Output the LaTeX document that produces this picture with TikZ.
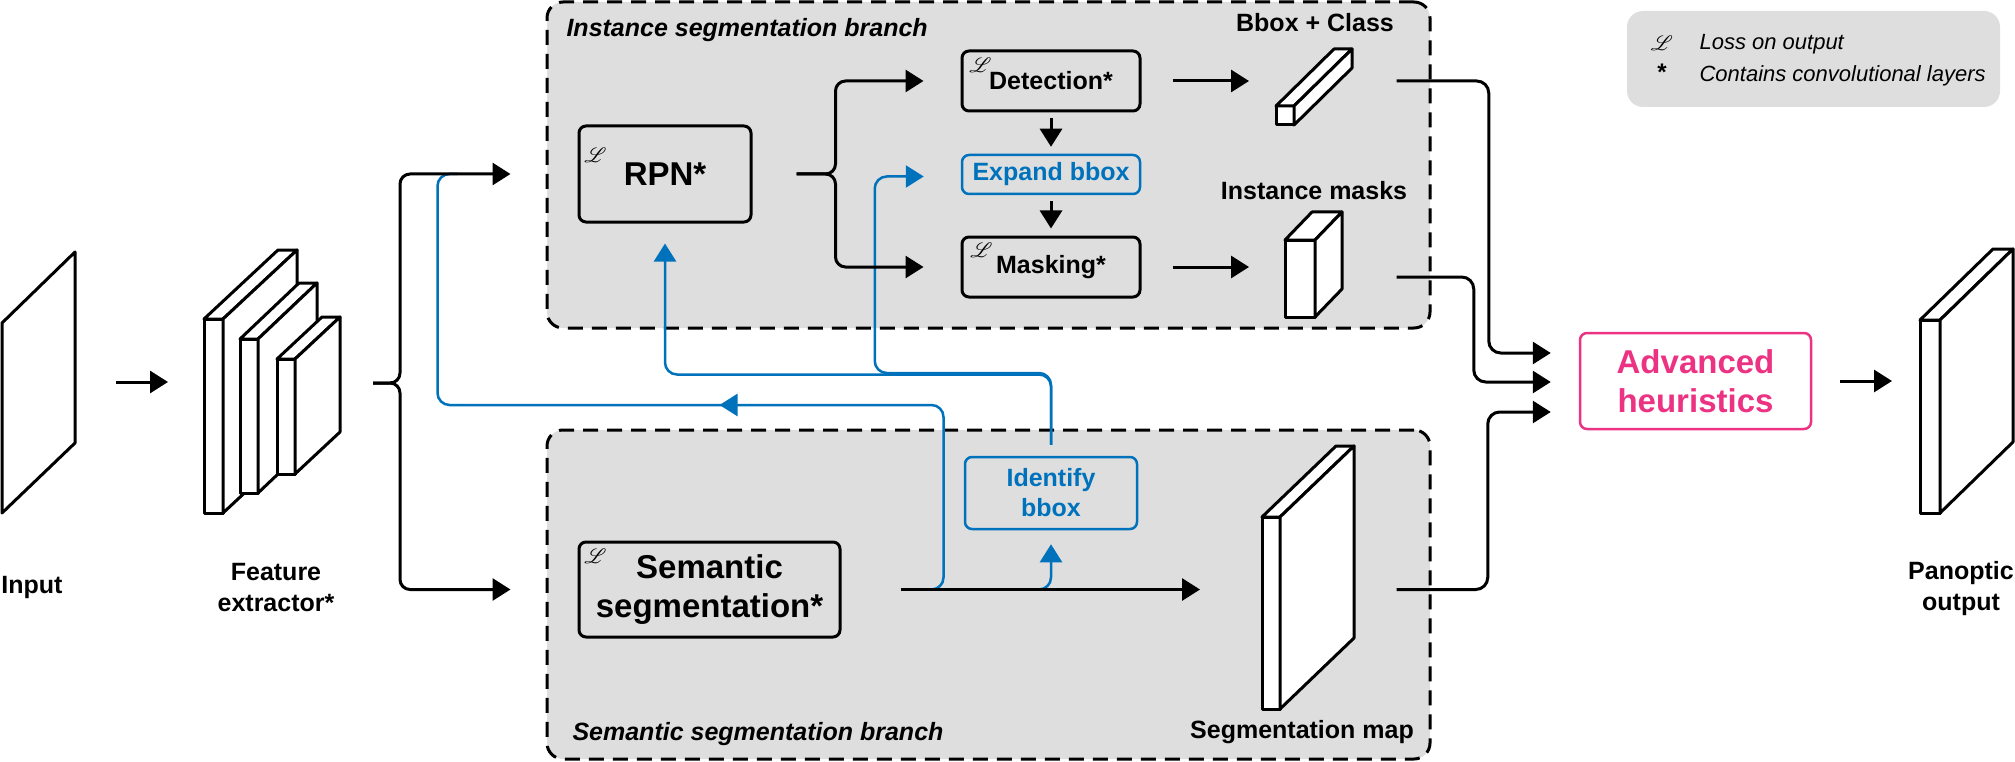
\documentclass[tikz,border=0pt]{standalone}
\usepackage{fontspec}
\setmainfont{Liberation Sans}
\usepackage{mathrsfs}
\usetikzlibrary{arrows.meta,calc,positioning}
\definecolor{fbblue}{RGB}{0,114,188}
\definecolor{heurpink}{RGB}{236,50,130}
\definecolor{panel}{RGB}{222,222,222}
\tikzset{
  >={Triangle[length=18pt,width=22pt]},
  flow/.style={->,line width=3pt},
  fback/.style={->,fbblue,line width=2.5pt,rounded corners=12pt},
  block/.style={draw,line width=3pt,rounded corners=7pt,inner sep=0pt,
    font=\bfseries\fontsize{25}{30}\selectfont},
  bigblock/.style={block,align=center,font=\bfseries\fontsize{33}{39}\selectfont},
  branch/.style={draw,fill=panel,dash pattern=on 15pt off 9pt,line width=3pt,
    rounded corners=16pt,inner sep=0pt},
  caption/.style={font=\bfseries\fontsize{25}{31}\selectfont,align=center},
  brname/.style={font=\bfseries\itshape\fontsize{25}{29}\selectfont,anchor=base west},
  lossmark/.style={font=\fontsize{20}{24}\selectfont,inner sep=0pt},
  slab/.style={fill=white,line width=3pt,line join=round},
}
% front face at (x,y), size w x h, depth (dx,dy)
\newcommand{\drawslab}[7]{%
  \filldraw[slab] (#2,#3) rectangle ++(#4,#5);
  \filldraw[slab] (#2,#3) -- ++(#6,#7) -- ++(#4,0) -- (#2+#4,#3) -- cycle;
  \filldraw[slab] (#2+#4,#3) -- ++(#6,#7) -- ++(0,#5) -- (#2+#4,#3+#5) -- cycle;
  \coordinate (#1-w) at (#2,#3+#5/2);
}

\begin{document}
\begin{tikzpicture}[x=1pt,y=-1pt]
  \useasboundingbox (0,0) rectangle (2015,762);

  % Branch panels and legend
  \node[branch,minimum width=883pt,minimum height=326pt] (instbr) at (988.5,165) {};
  \node[branch,minimum width=883pt,minimum height=329pt] (sembr) at (988.5,594.5) {};
  \node[brname] (instname) at (563,37) {Instance segmentation branch};
  \node[brname] (semname) at (569,740) {Semantic segmentation branch};

  \node[fill=panel,rounded corners=16pt,minimum width=373pt,minimum height=96pt]
    (legend) at (1813.5,59) {};
  \node[lossmark,font=\fontsize{22}{26}\selectfont] (legloss) at (1662,43) {$\mathscr{L}$};
  \node[anchor=base west,font=\itshape\fontsize{22}{26}\selectfont] (leglosstxt)
    at (1696,50) {Loss on output};
  \node[font=\bfseries\fontsize{24}{28}\selectfont,inner sep=0pt] (legstar) at (1662,72) {*};
  \node[anchor=base west,font=\itshape\fontsize{22}{26}\selectfont] (legstartxt)
    at (1696,82) {Contains convolutional layers};

  % Input and feature extractor
  \filldraw[slab] (2,323) -- (75,252) -- (75,443) -- (2,513) -- cycle;
  \coordinate (input-e) at (75,382);
  \drawslab{fe1}{204}{319}{19}{194}{74}{-69}
  \drawslab{fe2}{240}{339}{18}{154}{59}{-56}
  \drawslab{fe3}{277}{359}{18}{115}{45}{-42}
  \coordinate (fsplit) at (373,383);
  \node[caption,anchor=base] (inputlbl) at (32,593) {Input};
  \node[caption] (featlbl) at (276,588) {Feature\\extractor*};

  % Blocks
  \node[bigblock,minimum width=172pt,minimum height=96pt] (rpn) at (665,174) {RPN*};
  \node[block,minimum width=178pt,minimum height=60pt] (detect) at (1051,81) {Detection*};
  \node[block,fbblue,line width=2.5pt,minimum width=178pt,minimum height=39pt]
    (expand) at (1051,174.5) {Expand bbox};
  \node[block,minimum width=178pt,minimum height=60pt] (masking) at (1051,267) {Masking*};
  \node[bigblock,minimum width=261pt,minimum height=95pt] (semseg) at (709.5,589.5)
    {Semantic\\segmentation*};
  \node[block,fbblue,line width=2.5pt,align=center,minimum width=172pt,minimum height=72pt]
    (identify) at (1051,493) {Identify\\bbox};
  \node[bigblock,heurpink,line width=2.5pt,minimum width=231pt,minimum height=96pt]
    (heur) at (1695.5,381) {Advanced\\heuristics};

  \node[lossmark] (rpnloss) at ($(rpn.north west)+(18,31)$) {$\mathscr{L}$};
  \node[lossmark] (detloss) at ($(detect.north west)+(20,16)$) {$\mathscr{L}$};
  \node[lossmark] (maskloss) at ($(masking.north west)+(21,15)$) {$\mathscr{L}$};
  \node[lossmark] (semloss) at ($(semseg.north west)+(18,16)$) {$\mathscr{L}$};

  % Outputs
  \drawslab{bbox}{1276}{106}{18}{19}{58}{-57}
  \drawslab{imask}{1285}{240}{30}{77}{27}{-28}
  \drawslab{smap}{1262}{517}{18}{192}{74}{-71}
  \drawslab{pano}{1920}{320}{20}{193}{73}{-71}
  \node[caption,anchor=base] (bboxlbl) at (1315,32) {Bbox + Class};
  \node[caption,anchor=base] (imasklbl) at (1314,200) {Instance masks};
  \node[caption,anchor=base] (smaplbl) at (1302,738) {Segmentation map};
  \node[caption] (panolbl) at (1961,589) {Panoptic\\output};

  % Feedback connectors
  \draw[fback,-] ($(semseg.east)+(85,0)$) -| ($(semseg.east)+(102,-184.5)$)
    -| ($(rpn.west)+(-140,0)$) -- ($(rpn.west)+(-120,0)$);
  \draw[fback] ($(semseg.east)+(-92,-184.5)$) -- ($(semseg.east)+(-122,-184.5)$);
  \draw[fback,shorten <=11pt] (identify.north) |- ($(rpn.south)+(0,151)$)
    -- ($(rpn.south)+(0,20)$);
  \draw[fback,shorten <=11pt] (identify.north) |- ($(expand.west)+(-86,198.5)$)
    |- ($(expand.west)+(-37,2)$);
  \draw[fback] ($(semseg.east)+(190,0)$) -| ($(identify.south)+(0,14)$);

  % Main flow
  \draw[flow,shorten <=41pt,shorten >=36pt] (input-e) -- (input-e -| fe1-w);
  \draw[flow,rounded corners=10pt] (fsplit) -- ++(27,0) |- ($(rpn.west)+(-67,0)$);
  \draw[flow,rounded corners=10pt] (fsplit) -- ++(27,0) |- ($(semseg.west)+(-67,0)$);
  \draw[flow,rounded corners=10pt] ($(rpn.east)+(44,0)$) -- ++(39,0)
    |- ($(detect.west)+(-37,0)$);
  \draw[flow,rounded corners=10pt] ($(rpn.east)+(44,0)$) -- ++(39,0)
    |- ($(masking.west)+(-37,0)$);
  \draw[flow,shorten <=6pt,shorten >=7pt] (detect) -- (expand);
  \draw[flow,shorten <=6pt,shorten >=7pt] (expand) -- (masking);
  \draw[flow,shorten <=31pt,shorten >=27pt] (detect.east) -- (detect.east -| bbox-w);
  \draw[flow,shorten <=31pt,shorten >=36pt] (masking.east) -- (masking.east -| imask-w);
  \draw[flow,shorten <=59pt,shorten >=62pt] (semseg.east) -- (semseg.east -| smap-w);

  \draw[flow,rounded corners=12pt] ($(detect.east -| instbr.east)+(-35,0)$)
    -| ($(heur.west)+(-90,-28)$) -- ($(heur.west)+(-28,-28)$);
  \draw[flow,rounded corners=12pt] ($(imask-w -| instbr.east)+(-35,-1.5)$)
    -| ($(heur.west)+(-105,1)$) -- ($(heur.west)+(-28,1)$);
  \draw[flow,rounded corners=12pt] ($(semseg.east -| sembr.east)+(-35,0)$)
    -| ($(heur.west)+(-91,31)$) -- ($(heur.west)+(-28,31)$);
  \draw[flow,shorten <=28pt,shorten >=28pt] (heur.east) -- (heur.east -| pano-w);
\end{tikzpicture}
\end{document}
